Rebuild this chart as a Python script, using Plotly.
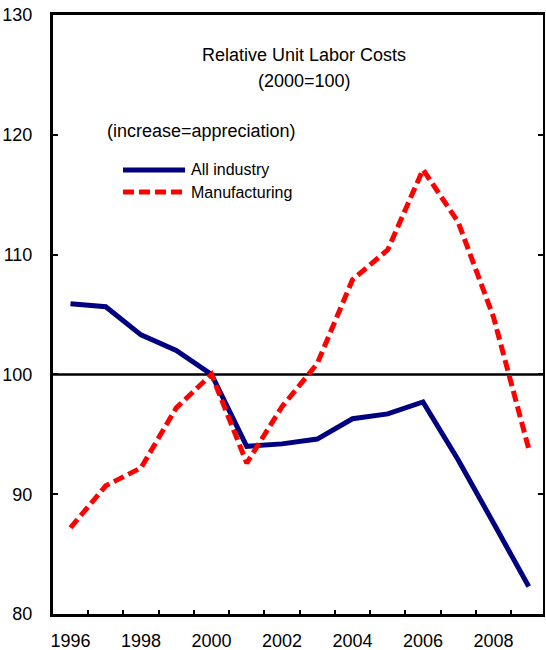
import plotly.graph_objects as go

# ---- data ----
years = list(range(1996, 2010))
all_industry = [105.9, 105.65, 103.3, 102.0, 100.0, 94.0, 94.2, 94.6, 96.3, 96.7, 97.7, 92.85, 87.6, 82.3]
manufacturing = [87.2, 90.7, 92.2, 97.2, 100.0, 92.6, 97.3, 100.9, 107.9, 110.4, 117.1, 112.7, 104.8, 93.8]
baseline = 100
x_labels = [1996, 1998, 2000, 2002, 2004, 2006, 2008]
x_minor_ticks = [y + 0.5 for y in range(1996, 2009)]
y_ticks = [80, 90, 100, 110, 120, 130]
title_lines = ["Relative Unit Labor Costs", "(2000=100)"]
note = "(increase=appreciation)"
series_names = ["All industry", "Manufacturing"]

# ---- layout geometry (pixels) ----
W, H = 546, 650
L, R, T, B = 53, 3, 15, 36
PW, PH = W - L - R, H - T - B


def px(xp):
    return (xp - L) / PW


def py(yp):
    return (H - B - yp) / PH


FONT = "Liberation Sans, Arial, sans-serif"
NAVY = "#000080"
RED = "#FF0000"
DASH = "11px,5px"

fig = go.Figure()
fig.add_trace(go.Scatter(x=years, y=all_industry, mode="lines", name=series_names[0],
                         line=dict(color=NAVY, width=5), showlegend=False))
fig.add_trace(go.Scatter(x=years, y=manufacturing, mode="lines", name=series_names[1],
                         line=dict(color=RED, width=5, dash=DASH), showlegend=False))
# helper trace so the right-hand mirrored axis is drawn
fig.add_trace(go.Scatter(x=[], y=[], yaxis="y2", showlegend=False, hoverinfo="skip"))

fig.add_shape(type="line", xref="paper", x0=0, x1=1, yref="y", y0=baseline, y1=baseline,
              line=dict(color="black", width=2.5), layer="below")

# legend (drawn manually to match long line samples)
for i, (name, color, dash) in enumerate([(series_names[0], NAVY, "solid"), (series_names[1], RED, DASH)]):
    ypix = 170 + 22 * i
    fig.add_shape(type="line", xref="paper", yref="paper", x0=px(123), x1=px(185),
                  y0=py(ypix), y1=py(ypix), line=dict(color=color, width=5, dash=dash))
    fig.add_annotation(xref="paper", yref="paper", x=px(189), y=py(ypix), text=name,
                       showarrow=False, xanchor="left", yanchor="middle",
                       font=dict(size=16, color="black", family=FONT))

fig.add_annotation(xref="paper", yref="paper", x=px(304), y=py(55), text=title_lines[0],
                   showarrow=False, xanchor="center", yanchor="middle",
                   font=dict(size=18, color="black", family=FONT))
fig.add_annotation(xref="paper", yref="paper", x=px(304), y=py(81), text=title_lines[1],
                   showarrow=False, xanchor="center", yanchor="middle",
                   font=dict(size=18, color="black", family=FONT))
fig.add_annotation(xref="paper", yref="paper", x=px(105), y=py(131), text=note,
                   showarrow=False, xanchor="left", yanchor="middle",
                   font=dict(size=18, color="black", family=FONT))

fig.update_layout(
    width=W, height=H,
    margin=dict(l=L, r=R, t=T, b=B, pad=0, autoexpand=False),
    paper_bgcolor="white", plot_bgcolor="white",
    font=dict(family=FONT, size=18, color="black"),
    xaxis=dict(range=[1995.504, 2009.405], showgrid=False, zeroline=False, automargin=False,
               showline=True, linecolor="black", linewidth=3, mirror=True,
               tickmode="array", tickvals=x_labels, ticktext=[str(v) for v in x_labels],
               ticks="", ticklabelstandoff=8,
               minor=dict(tickmode="array", tickvals=x_minor_ticks, ticks="inside",
                          ticklen=4, tickwidth=2, tickcolor="black"),
               tickfont=dict(size=18, color="black", family=FONT)),
    yaxis=dict(range=[80, 130], showgrid=False, zeroline=False, automargin=False,
               showline=True, linecolor="black", linewidth=3,
               tickmode="array", tickvals=y_ticks, ticks="inside", ticklen=5,
               tickwidth=1.5, tickcolor="black", ticklabelstandoff=14,
               tickfont=dict(size=18, color="black", family=FONT)),
    yaxis2=dict(range=[80, 130], overlaying="y", side="right", anchor="x", automargin=False,
                showgrid=False, zeroline=False, showline=True, linecolor="black",
                linewidth=1.5, tickmode="array", tickvals=y_ticks, ticks="inside",
                ticklen=5, tickwidth=1.5, tickcolor="black", showticklabels=False),
)

fig.write_html("out.html", config={"displayModeBar": False},
               post_script="document.body.style.margin='0';document.body.style.overflow='hidden';")
